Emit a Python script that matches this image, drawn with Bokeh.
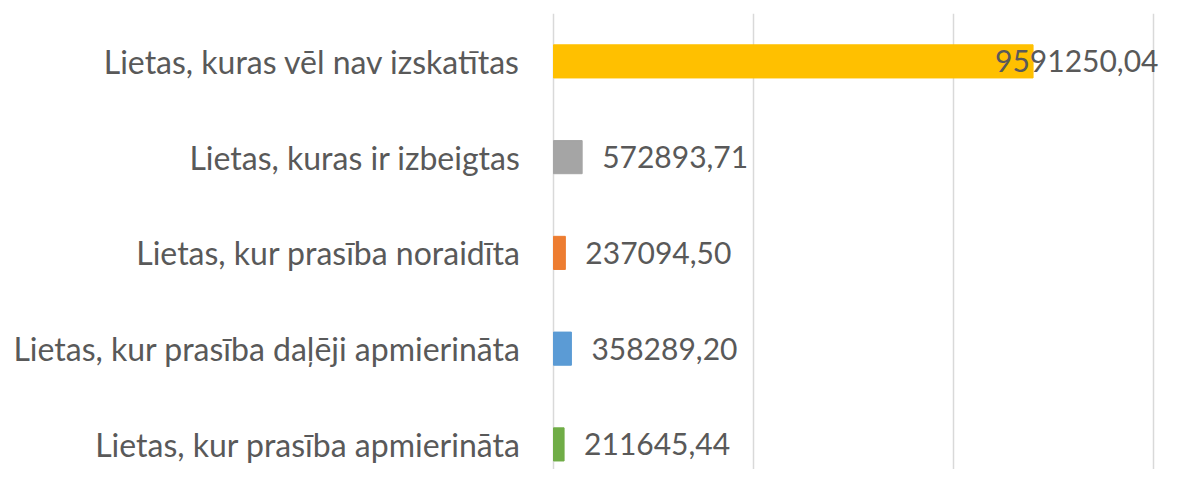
from bokeh.plotting import figure
from bokeh.models import ColumnDataSource, Range1d, FixedTicker
from bokeh.core.properties import value
from bokeh.embed import file_html
from bokeh.resources import INLINE

categories = [
    "Lietas, kur prasība apmierināta",
    "Lietas, kur prasība daļēji apmierināta",
    "Lietas, kur prasība noraidīta",
    "Lietas, kuras ir izbeigtas",
    "Lietas, kuras vēl nav izskatītas",
]
values = [211645.44, 358289.20, 237094.50, 572893.71, 9591250.04]
colors = ["#70AD47", "#5B9BD5", "#ED7D31", "#A5A5A5", "#FFC000"]
grid_ticks = [0, 4000000, 8000000, 12000000]

pos = [i + 0.5 for i in range(len(categories))]
labels = [f"{v:.2f}".replace(".", ",") for v in values]
offsets = [20 if v < 8000000 else -38 for v in values]

src = ColumnDataSource(dict(y=pos, v=values, c=colors, lab=labels, off=offsets))

p = figure(width=1164, height=469, output_backend="svg", toolbar_location=None,
           x_range=Range1d(-100000, 12220000), y_range=Range1d(0.238, 5.0),
           min_border_left=548, min_border_right=0, min_border_top=13, min_border_bottom=0)
p.outline_line_color = None
p.background_fill_color = "white"
p.border_fill_color = "white"

p.hbar(y="y", left=0, right="v", height=0.346, color="c", source=src)
p.text(x="v", y="y", text="lab", x_offset="off", source=src,
       text_font=value("Lato"), text_font_size="30px", text_color="#595959",
       text_align="left", text_baseline="middle")

p.xaxis.visible = False
p.xgrid.ticker = FixedTicker(ticks=grid_ticks)
p.xgrid.grid_line_color = "#d9d9d9"
p.xgrid.grid_line_width = 1.5
p.ygrid.grid_line_color = None

ax = p.yaxis[0]
ax.ticker = FixedTicker(ticks=pos)
ax.major_label_overrides = {pp: c for pp, c in zip(pos, categories)}
ax.axis_line_color = None
ax.major_tick_line_color = None
ax.minor_tick_line_color = None
ax.major_tick_out = 0
ax.major_label_standoff = 28
ax.major_label_text_font = "Lato"
ax.major_label_text_font_size = "32px"
ax.major_label_text_color = "#595959"

open("out.html", "w").write(file_html(p, INLINE))
